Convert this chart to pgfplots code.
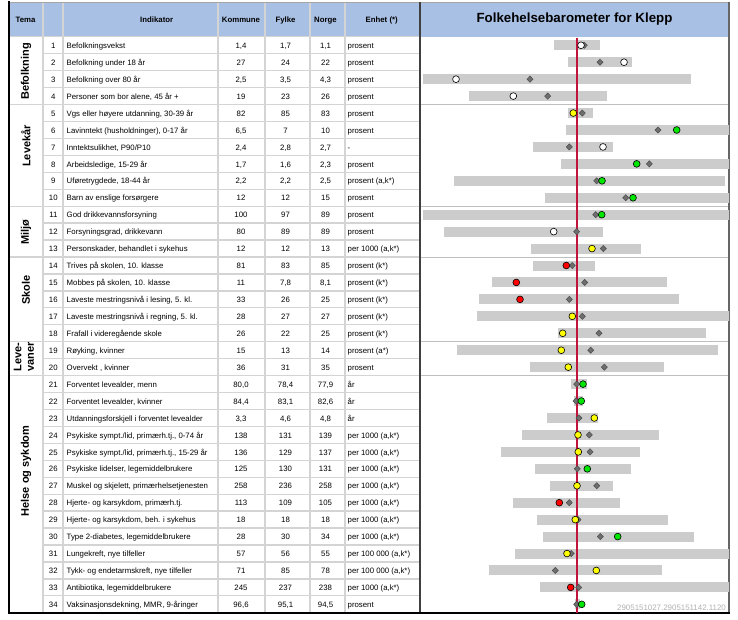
\documentclass[border=0pt]{standalone}
\usepackage{pgfplots}
\pgfplotsset{compat=1.18}
\usepackage{pgfplotstable}
\usepackage{fontspec}
\setmainfont{Liberation Sans}
\definecolor{hdr}{RGB}{168,192,228}
\definecolor{gridc}{RGB}{212,212,212}
\definecolor{barg}{RGB}{204,204,204}
\definecolor{redline}{RGB}{192,20,60}
\definecolor{dia}{RGB}{110,110,110}
\definecolor{kgreen}{RGB}{0,230,0}
\definecolor{kyellow}{RGB}{255,255,0}
\definecolor{kred}{RGB}{255,0,0}

% barometer: positions relative to Norway (=0), in chart units
\pgfplotstableread{
row lo hi fylke kommune cls
1 -22.4 23.3 7.6 4.3 w
2 -8.4 55 23.3 47.3 w
3 -154 114.3 -46.7 -120.7 w
4 -107.4 30 -29 -63.4 w
5 -8.4 16 5.6 -3.4 y
6 -10.7 170 81.3 100 g
7 -44 36 -7.4 26.3 w
8 -15.7 170 72.6 60 g
9 -122.4 148.6 20 25.3 g
10 -31.7 170 49 56.3 g
11 -154 170 19 25 g
12 -132.7 26.6 0 -23 w
13 -46 64.3 26.6 15.3 y
14 -43.4 18 -4.4 -10.4 r
15 -84.4 90.6 8 -60.4 r
16 -97.7 102.3 -7.4 -56.7 r
17 -100 170 5.6 -4.4 y
18 -18.4 129 22.3 -14 y
19 -119.7 141.3 14 -15.4 y
20 -46.4 87.3 27.6 -8.4 y
21 -5.7 10 0 6.3 g
22 -2.7 6.6 -0.7 4.6 g
23 -29.4 21.6 2.3 17.6 y
24 -55 82 12.6 1.3 y
25 -75.4 63.6 13.3 1.6 y
26 -41.7 54.3 0.6 10.6 g
27 -27 36.6 20 0.3 y
28 -63.7 43 -7.4 -17.4 r
29 -39.4 91.3 1.3 -1.4 y
30 -34 117.3 23.6 41 g
31 -61.7 170 -5.4 -9.7 y
32 -88 85.6 -21.4 19.6 y
33 -36.4 170 2 -6 r
34 -1.7 3.3 0 5 g
}\baro

\newcommand\ft{\fontsize{7.8}{9}\selectfont}
\newcommand\trow[6]{%
 \pgfmathsetmacro\ry{45.8+(#1-1)*16.94}%
 \node[anchor=mid] at (53.3,\ry) {#1};
 \node[anchor=mid west] at (66.5,\ry) {#2};
 \node[anchor=mid] at (241,\ry) {#3};
 \node[anchor=mid] at (285.5,\ry) {#4};
 \node[anchor=mid] at (325.5,\ry) {#5};
 \node[anchor=mid west] at (347.5,\ry) {#6};}

\begin{document}
\begin{tikzpicture}
\useasboundingbox (0,0) rectangle (738pt,-620pt);
\begin{scope}[x=1pt,y=-1pt,every node/.style={inner sep=0pt,font=\ft}]
 \fill[white] (0,0) rectangle (738,620);
 \fill[hdr] (9,2) rectangle (729,37);
 % horizontal grid
 \foreach \i in {1,...,33}{\draw[gridc,line width=1.3pt] (43,{36.8+\i*16.94}) -- (419,{36.8+\i*16.94});}
 \foreach \i in {0,4,10,13,18,20}{\draw[gridc,line width=1.3pt] (9,{36.8+\i*16.94}) -- (419,{36.8+\i*16.94});}
 % right panel separators
 \foreach \i in {4,10,13,18,20}{\draw[gridc!90!black,line width=0.8pt] (420,{36.8+\i*16.94}) -- (729,{36.8+\i*16.94});}
 % vertical grid
 \foreach \x in {43,63,218,265,310,345}{\draw[gridc,line width=1.3pt] (\x,2) -- (\x,613);}
 % borders
 \draw[gray!70,line width=0.8pt] (9,2) -- (729,2);
 \draw[black!75,line width=2pt] (419.5,2) -- (419.5,613);
 \draw[black!60,line width=1.6pt] (729,2) -- (729,613);
 \draw[black,line width=2pt] (9,1.5) -- (9,613.5);
 \draw[black,line width=1.6pt] (8,613) -- (729.8,613);
 % header text
 \node[font=\ft\bfseries,anchor=mid] at (25.5,20) {Tema};
 \node[font=\ft\bfseries,anchor=mid] at (156.7,20) {Indikator};
 \node[font=\ft\bfseries,anchor=mid] at (241,20) {Kommune};
 \node[font=\ft\bfseries,anchor=mid] at (285.5,20) {Fylke};
 \node[font=\ft\bfseries,anchor=mid] at (325.5,20) {Norge};
 \node[font=\ft\bfseries,anchor=mid] at (381.7,20) {Enhet (*)};
 \node[font=\fontsize{13.3}{15}\selectfont\bfseries,anchor=mid] at (574.5,19.5) {Folkehelsebarometer for Klepp};
 % tema labels
 \node[rotate=90,font=\fontsize{11}{12}\selectfont\bfseries] at (26,71.5) {Befolkning};
 \node[rotate=90,font=\fontsize{11}{12}\selectfont\bfseries] at (26,146) {Levekår};
 \node[rotate=90,font=\fontsize{11}{12}\selectfont\bfseries] at (26,232) {Miljø};
 \node[rotate=90,font=\fontsize{11}{12}\selectfont\bfseries] at (26,290) {Skole};
 \node[rotate=90,font=\fontsize{11}{12.5}\selectfont\bfseries,align=center] at (24,357) {Leve-\\vaner};
 \node[rotate=90,font=\fontsize{11}{12}\selectfont\bfseries] at (26,471) {Helse og sykdom};
 % rows
 \trow{1}{Befolkningsvekst}{1,4}{1,7}{1,1}{prosent}
 \trow{2}{Befolkning under 18 år}{27}{24}{22}{prosent}
 \trow{3}{Befolkning over 80 år}{2,5}{3,5}{4,3}{prosent}
 \trow{4}{Personer som bor alene, 45 år +}{19}{23}{26}{prosent}
 \trow{5}{Vgs eller høyere utdanning, 30-39 år}{82}{85}{83}{prosent}
 \trow{6}{Lavinntekt (husholdninger), 0-17 år}{6,5}{7}{10}{prosent}
 \trow{7}{Inntektsulikhet, P90/P10}{2,4}{2,8}{2,7}{-}
 \trow{8}{Arbeidsledige, 15-29 år}{1,7}{1,6}{2,3}{prosent}
 \trow{9}{Uføretrygdede, 18-44 år}{2,2}{2,2}{2,5}{prosent (a,k*)}
 \trow{10}{Barn av enslige forsørgere}{12}{12}{15}{prosent}
 \trow{11}{God drikkevannsforsyning}{100}{97}{89}{prosent}
 \trow{12}{Forsyningsgrad, drikkevann}{80}{89}{89}{prosent}
 \trow{13}{Personskader, behandlet i sykehus}{12}{12}{13}{per 1000 (a,k*)}
 \trow{14}{Trives på skolen, 10. klasse}{81}{83}{85}{prosent (k*)}
 \trow{15}{Mobbes på skolen, 10. klasse}{11}{7,8}{8,1}{prosent (k*)}
 \trow{16}{Laveste mestringsnivå i lesing, 5. kl.}{33}{26}{25}{prosent (k*)}
 \trow{17}{Laveste mestringsnivå i regning, 5. kl.}{28}{27}{27}{prosent (k*)}
 \trow{18}{Frafall i videregående skole}{26}{22}{25}{prosent (k*)}
 \trow{19}{Røyking, kvinner}{15}{13}{14}{prosent (a*)}
 \trow{20}{Overvekt , kvinner}{36}{31}{35}{prosent}
 \trow{21}{Forventet levealder, menn}{80,0}{78,4}{77,9}{år}
 \trow{22}{Forventet levealder, kvinner}{84,4}{83,1}{82,6}{år}
 \trow{23}{Utdanningsforskjell i forventet levealder}{3,3}{4,6}{4,8}{år}
 \trow{24}{Psykiske sympt./lid, primærh.tj., 0-74 år}{138}{131}{139}{per 1000 (a,k*)}
 \trow{25}{Psykiske sympt./lid, primærh.tj., 15-29 år}{136}{129}{137}{per 1000 (a,k*)}
 \trow{26}{Psykiske lidelser, legemiddelbrukere}{125}{130}{131}{per 1000 (a,k*)}
 \trow{27}{Muskel og skjelett, primærhelsetjenesten}{258}{236}{258}{per 1000 (a,k*)}
 \trow{28}{Hjerte- og karsykdom, primærh.tj.}{113}{109}{105}{per 1000 (a,k*)}
 \trow{29}{Hjerte- og karsykdom, beh. i sykehus}{18}{18}{18}{per 1000 (a,k*)}
 \trow{30}{Type 2-diabetes, legemiddelbrukere}{28}{30}{34}{per 1000 (a,k*)}
 \trow{31}{Lungekreft, nye tilfeller}{57}{56}{55}{per 100 000 (a,k*)}
 \trow{32}{Tykk- og endetarmskreft, nye tilfeller}{71}{85}{78}{per 100 000 (a,k*)}
 \trow{33}{Antibiotika, legemiddelbrukere}{245}{237}{238}{per 1000 (a,k*)}
 \trow{34}{Vaksinasjonsdekning, MMR, 9-åringer}{96,6}{95,1}{94,5}{prosent}
 \node[anchor=mid west,text=gray!60,font=\fontsize{7.9}{9}\selectfont] at (617,608) {2905151027.2905151142.1120};
\end{scope}
\begin{axis}[at={(420pt,-612.8pt)}, anchor=south west, scale only axis,
  width=309pt, height=576pt, xmin=-156.7, xmax=152.3, ymin=0.5, ymax=34.5,
  y dir=reverse, hide axis, clip=true]
 \addplot[barg, line width=10pt, mark=none, forget plot,
   quiver={u=\thisrow{hi}-\thisrow{lo}, v=0}] table[x=lo,y=row] {\baro};
 \addplot[only marks, mark=diamond*, mark size=3.1pt,
   mark options={xscale=1.3, fill=dia, draw=black!70, line width=0.5pt}] table[x=fylke,y=row] {\baro};
 \addplot[scatter, only marks, mark=*, mark size=3.4pt, point meta=explicit symbolic,
   scatter/classes={w={mark=*,draw=black,fill=white}, y={mark=*,draw=black,fill=kyellow},
   g={mark=*,draw=black,fill=kgreen}, r={mark=*,draw=black,fill=kred}},
   mark options={line width=0.6pt}] table[x=kommune,y=row,meta=cls] {\baro};
 \addplot[redline, line width=2pt, mark=none] coordinates {(0,0.55) (0,34.5)};
\end{axis}
\end{tikzpicture}
\end{document}
